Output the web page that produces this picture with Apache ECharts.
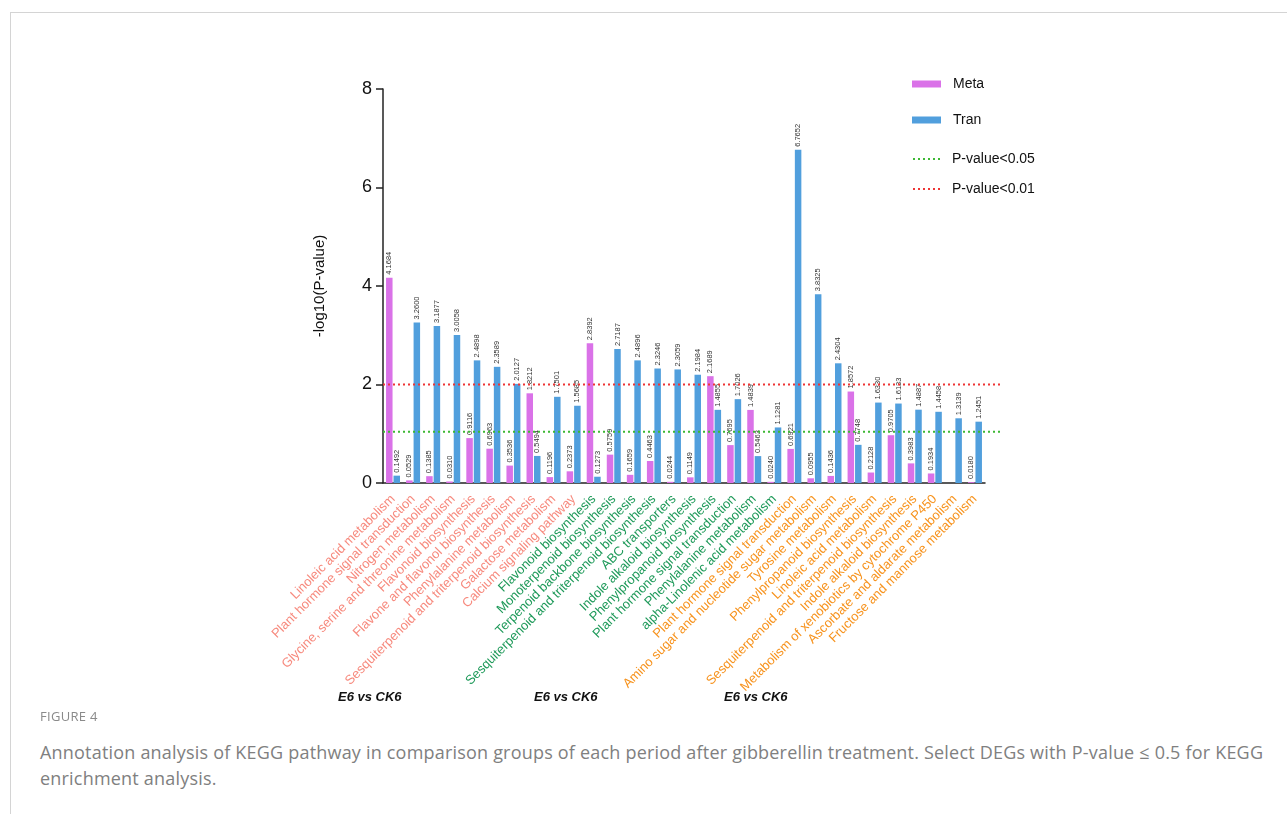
<!DOCTYPE html>
<html>
<head>
<meta charset="utf-8">
<script src="https://cdn.jsdelivr.net/npm/echarts@6/dist/echarts.min.js"></script>
<style>
  html, body { margin: 0; padding: 0; background: #fff; }
  body { width: 1287px; height: 814px; position: relative; overflow: hidden; }
  #frame { position: absolute; left: 10px; top: 12px; right: 0; bottom: 0;
           border-top: 1px solid #d4d4d4; border-left: 1px solid #d4d4d4; }
  #chart { position: absolute; left: 0; top: 0; width: 1287px; height: 710px; }
  #fig { position: absolute; left: 40px; top: 707px; font-family: "Open Sans", sans-serif;
         font-size: 13px; color: #8a8a8a; letter-spacing: 0.3px; }
  #caption { position: absolute; left: 40px; top: 739px; width: 1236px; font-family: "Open Sans", sans-serif;
             font-size: 18px; letter-spacing: 0.2px; line-height: 26px; color: #808080; }
</style>
</head>
<body>
<div id="frame"></div>
<div id="chart"></div>
<div id="fig">FIGURE 4</div>
<div id="caption">Annotation analysis of KEGG pathway in comparison groups of each period after gibberellin treatment. Select DEGs with P-value &le; 0.5 for KEGG enrichment analysis.</div>
<script>
// three comparison groups, ten pathways each
const groupA = ['Linoleic acid metabolism', 'Plant hormone signal transduction', 'Nitrogen metabolism',
  'Glycine, serine and threonine metabolism', 'Flavonoid biosynthesis', 'Flavone and flavonol biosynthesis',
  'Phenylalanine metabolism', 'Sesquiterpenoid and triterpenoid biosynthesis', 'Galactose metabolism',
  'Calcium signaling pathway'];
const groupB = ['Flavonoid biosynthesis', 'Monoterpenoid biosynthesis', 'Terpenoid backbone biosynthesis',
  'Sesquiterpenoid and triterpenoid biosynthesis', 'ABC transporters', 'Indole alkaloid biosynthesis',
  'Phenylpropanoid biosynthesis', 'Plant hormone signal transduction', 'Phenylalanine metabolism',
  'alpha-Linolenic acid metabolism'];
const groupC = ['Plant hormone signal transduction', 'Amino sugar and nucleotide sugar metabolism',
  'Tyrosine metabolism', 'Phenylpropanoid biosynthesis', 'Linoleic acid metabolism',
  'Sesquiterpenoid and triterpenoid biosynthesis', 'Indole alkaloid biosynthesis',
  'Metabolism of xenobiotics by cytochrome P450', 'Ascorbate and aldarate metabolism',
  'Fructose and mannose metabolism'];
const groupNames = ['E6 vs CK6', 'E6 vs CK6', 'E6 vs CK6'];
const groupColors = ['#F78A7E', '#1F9A5A', '#F7931E'];

const metaValues = [4.1684, 0.0529, 0.1385, 0.0310, 0.9116, 0.6963, 0.3536, 1.8212, 0.1196, 0.2373,
  2.8392, 0.5759, 0.1659, 0.4463, 0.0244, 0.1149, 2.1689, 0.7695, 1.4839, 0.0240,
  0.6921, 0.0955, 0.1436, 1.8572, 0.2128, 0.9705, 0.3983, 0.1934, null, 0.0180];
const tranValues = [0.1492, 3.2600, 3.1877, 3.0058, 2.4898, 2.3589, 2.0127, 0.5494, 1.7501, 1.5685,
  0.1273, 2.7187, 2.4896, 2.3246, 2.3059, 2.1984, 1.4855, 1.7026, 0.5463, 1.1281,
  6.7652, 3.8325, 2.4304, 0.7748, 1.6330, 1.6133, 1.4887, 1.4458, 1.3139, 1.2451];

const thresholdNames = ['P-value<0.05', 'P-value<0.01'];
const thresholdValues = [1.04, 2.0];
const thresholdColors = ['#3DB834', '#EE3535'];

const yTicks = [0, 2, 4, 6, 8];

const categories = groupA.concat(groupB, groupC);
const catColors = [].concat(
  groupA.map(() => groupColors[0]),
  groupB.map(() => groupColors[1]),
  groupC.map(() => groupColors[2])
);

const FONT = '"Liberation Sans", Arial, sans-serif';

const chart = echarts.init(document.getElementById('chart'), null, { renderer: 'canvas' });

const barLabel = {
  show: true,
  position: 'top',
  rotate: 90,
  align: 'left',
  verticalAlign: 'middle',
  distance: 3,
  fontSize: 7.5,
  fontFamily: FONT,
  color: '#333',
  formatter: p => (p.value == null ? '' : p.value.toFixed(4))
};

const option = {
  backgroundColor: 'transparent',
  animation: false,
  grid: [
    { left: 383, top: 89, width: 602, height: 394 },
    { left: 383, top: 89, width: 617, height: 394 }
  ],
  legend: [
    {
      data: ['Meta', 'Tran'],
      orient: 'vertical',
      left: 907, top: 71,
      itemWidth: 29, itemHeight: 7, itemGap: 20,
      icon: 'rect',
      textStyle: { fontFamily: FONT, fontSize: 14, color: '#111', lineHeight: 16, padding: [0, 0, 0, 7] }
    },
    {
      data: thresholdNames,
      orient: 'vertical',
      left: 907, top: 146,
      itemWidth: 29, itemHeight: 3, itemGap: 14,
      itemStyle: { opacity: 0 },
      textStyle: { fontFamily: FONT, fontSize: 14, color: '#111', lineHeight: 16, padding: [0, 0, 0, 5] }
    }
  ],
  xAxis: [
    {
      type: 'category',
      gridIndex: 0,
      data: categories,
      axisLine: { lineStyle: { color: '#222', width: 1.5 } },
      axisTick: { alignWithLabel: true, length: 10, lineStyle: { color: '#222', width: 1.5 } },
      axisLabel: {
        interval: 0,
        rotate: 45,
        margin: 14,
        fontSize: 13,
        fontFamily: FONT,
        color: (v, i) => catColors[i]
      }
    },
    { type: 'value', gridIndex: 1, min: 0, max: 1, show: false }
  ],
  yAxis: [
    {
      type: 'value',
      gridIndex: 0,
      min: 0, max: 8, interval: 2,
      name: '-log10(P-value)',
      nameLocation: 'middle',
      nameGap: 56,
      nameTextStyle: { fontFamily: FONT, fontSize: 15, color: '#111' },
      axisLine: { show: true, lineStyle: { color: '#222', width: 1.5 } },
      axisTick: { show: true, length: 7, lineStyle: { color: '#222', width: 1.5 } },
      axisLabel: { fontSize: 18, fontFamily: FONT, color: '#111', margin: 11,
        formatter: v => (yTicks.includes(v) ? String(v) : '') },
      splitLine: { show: false }
    },
    { type: 'value', gridIndex: 1, min: 0, max: 8, show: false }
  ],
  series: [
    {
      name: 'Meta', type: 'bar', xAxisIndex: 0, yAxisIndex: 0,
      data: metaValues, barWidth: 6.5, barGap: '15%',
      itemStyle: { color: '#DA72E8' },
      label: barLabel
    },
    {
      name: 'Tran', type: 'bar', xAxisIndex: 0, yAxisIndex: 0,
      data: tranValues, barWidth: 6.5, barGap: '15%',
      itemStyle: { color: '#519FDD' },
      label: barLabel
    }
  ].concat(thresholdNames.map((n, k) => ({
    name: n, type: 'line', xAxisIndex: 1, yAxisIndex: 1,
    symbol: 'none', silent: true, z: 5,
    lineStyle: { color: thresholdColors[k], width: 2, type: [2, 3] },
    itemStyle: { color: thresholdColors[k] },
    data: [[0, thresholdValues[k]], [1, thresholdValues[k]]]
  }))),
  graphic: groupNames.map((g, k) => ({
    type: 'text',
    left: [338, 534, 724][k],
    top: 691,
    style: { text: g, fontFamily: FONT, fontSize: 13, fontWeight: 'bold', fontStyle: 'italic', fill: '#111' }
  }))
};

chart.setOption(option);
window.addEventListener('resize', () => chart.resize());
</script>
</body>
</html>
